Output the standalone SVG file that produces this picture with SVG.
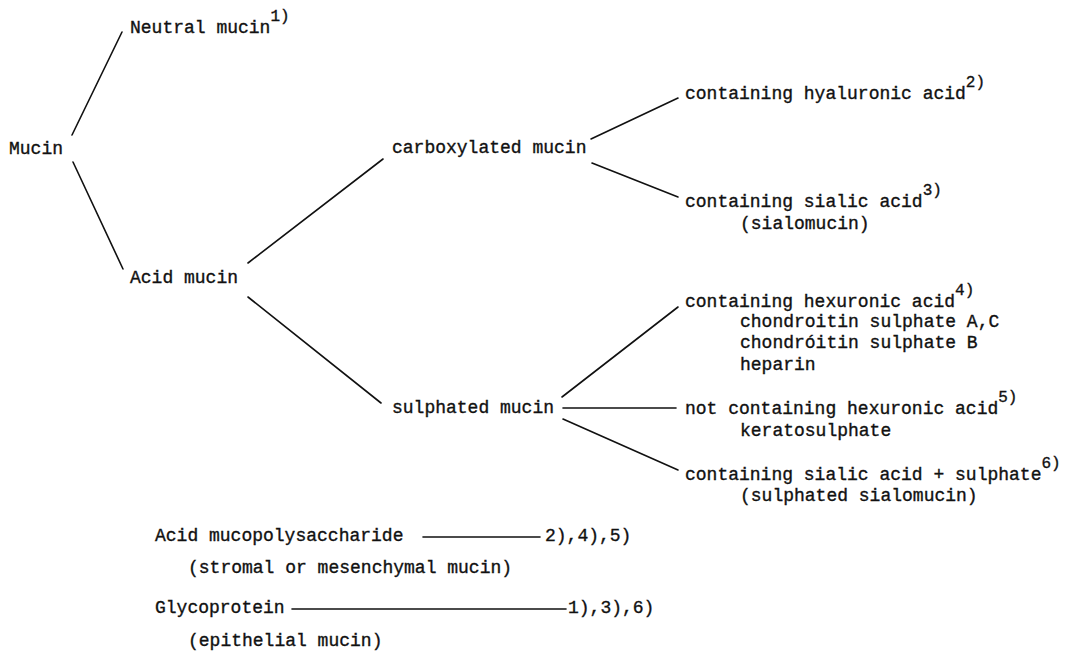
<svg xmlns="http://www.w3.org/2000/svg" width="1069" height="654" viewBox="0 0 1069 654">
<style>
text{font-family:"Liberation Mono","DejaVu Sans Mono",monospace;font-size:18px;fill:#111;stroke:#111;stroke-width:0.35px}
.sup{font-size:16px}
#connectors line{stroke:#111;stroke-width:1.6;stroke-linecap:round}
</style>
<rect width="1069" height="654" fill="#fff"/>
<g id="connectors">
<line x1="72" y1="135" x2="122" y2="32"/>
<line x1="73" y1="162" x2="123" y2="269"/>
<line x1="248" y1="263" x2="383" y2="159"/>
<line x1="248" y1="297" x2="381" y2="403"/>
<line x1="591" y1="139" x2="678" y2="98"/>
<line x1="592" y1="163" x2="678" y2="197"/>
<line x1="562" y1="397" x2="678" y2="307"/>
<line x1="563" y1="408" x2="676" y2="408"/>
<line x1="563" y1="419" x2="678" y2="470"/>
<line x1="423" y1="537" x2="540" y2="537"/>
<line x1="292" y1="609" x2="566" y2="609"/>
</g>
<g id="mucin"><text x="9" y="154">Mucin</text></g>
<g id="neutral"><text x="130" y="33">Neutral mucin<tspan class="sup" dy="-12">1)</tspan></text></g>
<g id="acid"><text x="130" y="283">Acid mucin</text></g>
<g id="carboxylated"><text x="392" y="153">carboxylated mucin</text></g>
<g id="sulphated"><text x="392" y="413">sulphated mucin</text></g>
<g id="hyaluronic"><text x="685" y="99">containing hyaluronic acid<tspan class="sup" dy="-12">2)</tspan></text></g>
<g id="sialic">
<text x="685" y="207">containing sialic acid<tspan class="sup" dy="-12">3)</tspan></text>
<text x="740" y="229">(sialomucin)</text>
</g>
<g id="hexuronic">
<text x="685" y="307">containing hexuronic acid<tspan class="sup" dy="-12">4)</tspan></text>
<text x="740" y="327">chondroitin sulphate A,C</text>
<text x="740" y="348">chondróitin sulphate B</text>
<text x="740" y="370">heparin</text>
</g>
<g id="nothexuronic">
<text x="685" y="414">not containing hexuronic acid<tspan class="sup" dy="-12">5)</tspan></text>
<text x="740" y="436">keratosulphate</text>
</g>
<g id="sialicsulphate">
<text x="685" y="480">containing sialic acid + sulphate<tspan class="sup" dy="-12">6)</tspan></text>
<text x="740" y="501">(sulphated sialomucin)</text>
</g>
<g id="amps">
<text x="155" y="541">Acid mucopolysaccharide</text>
<text x="545" y="541">2),4),5)</text>
<text x="188" y="573">(stromal or mesenchymal mucin)</text>
</g>
<g id="glyco">
<text x="155" y="613">Glycoprotein</text>
<text x="568" y="613">1),3),6)</text>
<text x="188" y="646">(epithelial mucin)</text>
</g>
</svg>
